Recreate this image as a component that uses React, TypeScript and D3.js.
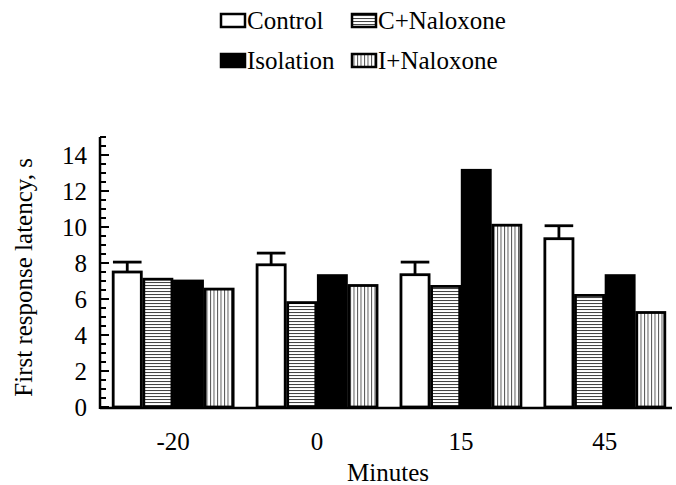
import React, { useEffect, useRef } from 'react';
import * as d3 from 'd3';

// data
const minutes = ['-20', '0', '15', '45'];
const groups = ['Control', 'C+Naloxone', 'Isolation', 'I+Naloxone'];
const control = [7.5, 7.9, 7.35, 9.35];
const controlErr = [0.55, 0.65, 0.7, 0.72];
const cNaloxone = [7.1, 5.8, 6.7, 6.2];
const isolation = [7.0, 7.3, 13.15, 7.3];
const iNaloxone = [6.55, 6.75, 10.1, 5.25];
const yTicks = [0, 2, 4, 6, 8, 10, 12, 14];

const App = () => {
  const ref = useRef<SVGSVGElement | null>(null);

  useEffect(() => {
    const width = 676;
    const height = 485;
    const left = 100;
    const right = 672;
    const bottom = 408;
    const font = 'Liberation Serif';

    const svg = d3.select(ref.current);
    svg.selectAll('*').remove();
    svg.attr('width', width).attr('height', height)
      .attr('font-family', font);

    // fill patterns
    const defs = svg.append('defs');
    const hp = defs.append('pattern')
      .attr('id', 'hlines')
      .attr('patternUnits', 'userSpaceOnUse')
      .attr('width', 4)
      .attr('height', 3);
    hp.append('rect').attr('width', 4).attr('height', 3).attr('fill', '#fff');
    hp.append('line').attr('x1', 0).attr('x2', 4).attr('y1', 0.5).attr('y2', 0.5)
      .attr('stroke', '#444').attr('stroke-width', 1.1);
    const vp = defs.append('pattern')
      .attr('id', 'vlines')
      .attr('patternUnits', 'userSpaceOnUse')
      .attr('width', 3.5)
      .attr('height', 4);
    vp.append('rect').attr('width', 3.5).attr('height', 4).attr('fill', '#fff');
    vp.append('line').attr('x1', 0.5).attr('x2', 0.5).attr('y1', 0).attr('y2', 4)
      .attr('stroke', '#555').attr('stroke-width', 1);

    const fills = ['#fff', 'url(#hlines)', '#000', 'url(#vlines)'];

    const y = d3.scaleLinear().domain([0, 15]).range([bottom - 1, bottom - 1 - 270]);
    const x0 = d3.scaleBand().domain(minutes).range([left, right + 6])
      .paddingInner(0.149).paddingOuter(0.083);
    const x1 = d3.scaleBand().domain(groups).range([0, x0.bandwidth()]).padding(0);

    const rows = minutes.map((m, i) => ({
      m,
      vals: [control[i], cNaloxone[i], isolation[i], iNaloxone[i]],
      err: controlErr[i],
    }));

    const g = svg.append('g');
    rows.forEach(r => {
      const gx = x0(r.m) as number;
      r.vals.forEach((v, j) => {
        const bx = gx + (x1(groups[j]) as number);
        g.append('rect')
          .attr('x', bx + 1.25)
          .attr('y', y(v))
          .attr('width', x1.bandwidth() - 2.5)
          .attr('height', y(0) - y(v))
          .attr('fill', fills[j])
          .attr('stroke', '#000')
          .attr('stroke-width', 2.8);
      });
      // error bar on control only
      const cx = gx + (x1('Control') as number);
      const mid = cx + x1.bandwidth() / 2;
      g.append('line')
        .attr('x1', mid).attr('x2', mid)
        .attr('y1', y(r.vals[0])).attr('y2', y(r.vals[0] + r.err))
        .attr('stroke', '#000').attr('stroke-width', 2.8);
      g.append('line')
        .attr('x1', cx + 1).attr('x2', cx + x1.bandwidth() - 1)
        .attr('y1', y(r.vals[0] + r.err)).attr('y2', y(r.vals[0] + r.err))
        .attr('stroke', '#000').attr('stroke-width', 2.8);
    });

    // axes
    svg.append('line')
      .attr('x1', left).attr('x2', right)
      .attr('y1', bottom).attr('y2', bottom)
      .attr('stroke', '#000').attr('stroke-width', 2.5);
    svg.append('line')
      .attr('x1', left).attr('x2', left)
      .attr('y1', y(15)).attr('y2', bottom + 1)
      .attr('stroke', '#000').attr('stroke-width', 2.5);

    const minor = d3.range(0, 15.01, 0.5);
    svg.append('g').selectAll('line')
      .data(minor)
      .enter().append('line')
      .attr('x1', left)
      .attr('x2', d => (d % 2 === 0 ? left + 9 : left + 6))
      .attr('y1', d => y(d)).attr('y2', d => y(d))
      .attr('stroke', '#000').attr('stroke-width', 2);

    svg.append('g').selectAll('text')
      .data(yTicks)
      .enter().append('text')
      .attr('x', 87)
      .attr('y', d => y(d))
      .attr('dy', '0.35em')
      .attr('text-anchor', 'end')
      .attr('font-size', 25)
      .text(d => d);

    svg.append('g').selectAll('text')
      .data(minutes)
      .enter().append('text')
      .attr('x', d => (x0(d) as number) + x0.bandwidth() / 2)
      .attr('y', 441)
      .attr('dy', '0.35em')
      .attr('text-anchor', 'middle')
      .attr('font-size', 25)
      .text(d => d);

    svg.append('text')
      .attr('x', 388).attr('y', 472)
      .attr('dy', '0.35em')
      .attr('text-anchor', 'middle')
      .attr('font-size', 25)
      .text('Minutes');

    svg.append('text')
      .attr('transform', `translate(23, ${y(7.2)}) rotate(-90)`)
      .attr('dy', '0.35em')
      .attr('text-anchor', 'middle')
      .attr('font-size', 25)
      .text('First response latency, s');

    // legend
    const legendPos = [
      { x: 221, y: 20 },
      { x: 352, y: 20 },
      { x: 221, y: 60 },
      { x: 352, y: 60 },
    ];
    const legend = svg.append('g');
    groups.forEach((name, i) => {
      const p = legendPos[i];
      legend.append('rect')
        .attr('x', p.x).attr('y', p.y - 6)
        .attr('width', 24).attr('height', 13)
        .attr('fill', fills[i])
        .attr('stroke', '#000').attr('stroke-width', 2.5);
      legend.append('text')
        .attr('x', p.x + 26).attr('y', p.y)
        .attr('dy', '0.35em')
        .attr('font-size', 25)
        .text(name);
    });
  }, []);

  return (
    <svg ref={ref} style={{ position: 'absolute', left: 0, top: 0, background: '#fff' }} />
  );
};

export default App;
